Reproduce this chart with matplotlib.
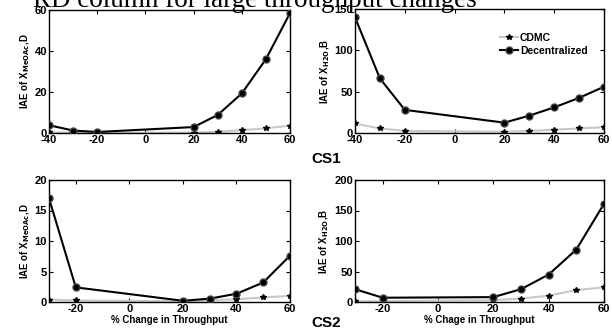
import matplotlib
matplotlib.use("Agg")
import matplotlib.pyplot as plt

plt.rcParams['font.family'] = ['Liberation Sans', 'DejaVu Sans']
plt.rcParams['font.weight'] = 'bold'
plt.rcParams['axes.unicode_minus'] = False

# throughput change (%) for each case study
x_cs1 = [-40, -30, -20, 20, 30, 40, 50, 60]
x_cs2 = [-30, -20, 20, 30, 40, 50, 60]

# CS1 IAE values
cs1_meoac_cdmc = [0.3, 0.2, 0.1, 0.2, 0.6, 1.4, 2.3, 3.6]
cs1_meoac_dec = [3.8, 1.2, 0.5, 2.9, 8.8, 19.3, 36.0, 58.5]
cs1_h2o_cdmc = [11.5, 5.5, 2.5, 1.5, 2.5, 4.0, 5.5, 7.0]
cs1_h2o_dec = [140.0, 66.0, 28.0, 12.5, 21.0, 31.0, 42.5, 56.0]

# CS2 IAE values
cs2_meoac_cdmc = [0.4, 0.25, 0.1, 0.3, 0.45, 0.75, 1.0]
cs2_meoac_dec = [17.0, 2.4, 0.2, 0.55, 1.35, 3.2, 7.6]
cs2_h2o_cdmc = [1.0, 1.5, 3.0, 5.5, 10.5, 19.5, 24.0]
cs2_h2o_dec = [21.0, 7.0, 8.0, 21.0, 45.0, 86.0, 161.0]

W, H = 612, 329
fig = plt.figure(figsize=(W / 100, H / 100), dpi=100)


def make_axes(left, right, top, bottom):
    return fig.add_axes([left / W, 1 - bottom / H, (right - left) / W, (bottom - top) / H])


def draw(ax, x, cdmc, dec, xlim, ylim, yticks, ylabel, xlabel=None):
    ax.plot(x, cdmc, color='#c8c8c8', lw=1.5, marker='*', ms=4,
            mfc='black', mec='black', label='CDMC', zorder=2)
    ax.plot(x, dec, color='black', lw=1.5, marker='o', ms=5,
            mfc='black', mec='#444444', label='Decentralized', zorder=3)
    ax.set_xlim(*xlim)
    ax.set_ylim(*ylim)
    xticks = list(range(-40 if xlim[0] == -40 else -20, 61, 20))
    ax.set_xticks(xticks, [str(t) for t in xticks], fontweight='bold')
    ax.set_yticks(yticks, [str(t) for t in yticks], fontweight='bold')
    ax.tick_params(direction='in', top=True, right=True, labelsize=8,
                   length=3, width=0.8, pad=1.5)
    for s in ax.spines.values():
        s.set_linewidth(1.0)
    ax.set_ylabel(ylabel, fontsize=7, fontweight='bold', labelpad=2)
    if xlabel:
        ax.set_xlabel(xlabel, fontsize=7, fontweight='bold', labelpad=1)


ax1 = make_axes(49, 290, 10, 133)
draw(ax1, x_cs1, cs1_meoac_cdmc, cs1_meoac_dec, (-40, 60), (0, 60),
     [0, 20, 40, 60], r'IAE of X$_{\mathbf{MeOAc}}$,D')

ax2 = make_axes(355, 604, 9, 133)
draw(ax2, x_cs1, cs1_h2o_cdmc, cs1_h2o_dec, (-40, 60), (0, 150),
     [0, 50, 100, 150], r'IAE of X$_{\mathbf{H2O}}$,B')
ax2.legend(loc='upper right', bbox_to_anchor=(0.935, 0.81), frameon=False,
           handlelength=1.7, handletextpad=0.2, labelspacing=0.3,
           borderpad=0, borderaxespad=0,
           prop={'weight': 'bold', 'size': 7.5})

ax3 = make_axes(49, 290, 180, 302)
draw(ax3, x_cs2, cs2_meoac_cdmc, cs2_meoac_dec, (-30, 60), (0, 20),
     [0, 5, 10, 15, 20], r'IAE of X$_{\mathbf{MeOAc}}$,D', '% Change in Throughput')

ax4 = make_axes(355, 604, 180, 302)
draw(ax4, x_cs2, cs2_h2o_cdmc, cs2_h2o_dec, (-30, 60), (0, 200),
     [0, 50, 100, 150, 200], r'IAE of X$_{\mathbf{H2O}}$,B', '% Chage in Throughput')

fig.text(255 / W, 1 - 7 / H, 'RD column for large throughput changes',
         family=['Liberation Serif', 'DejaVu Serif'], fontweight='normal',
         fontsize=19.5, ha='center', va='baseline')
fig.text(326 / W, 1 - 163 / H, 'CS1', fontsize=11, fontweight='bold',
         ha='center', va='baseline')
fig.text(326 / W, 1 - 327 / H, 'CS2', fontsize=11, fontweight='bold',
         ha='center', va='baseline')

fig.savefig('out.png', dpi=100)
